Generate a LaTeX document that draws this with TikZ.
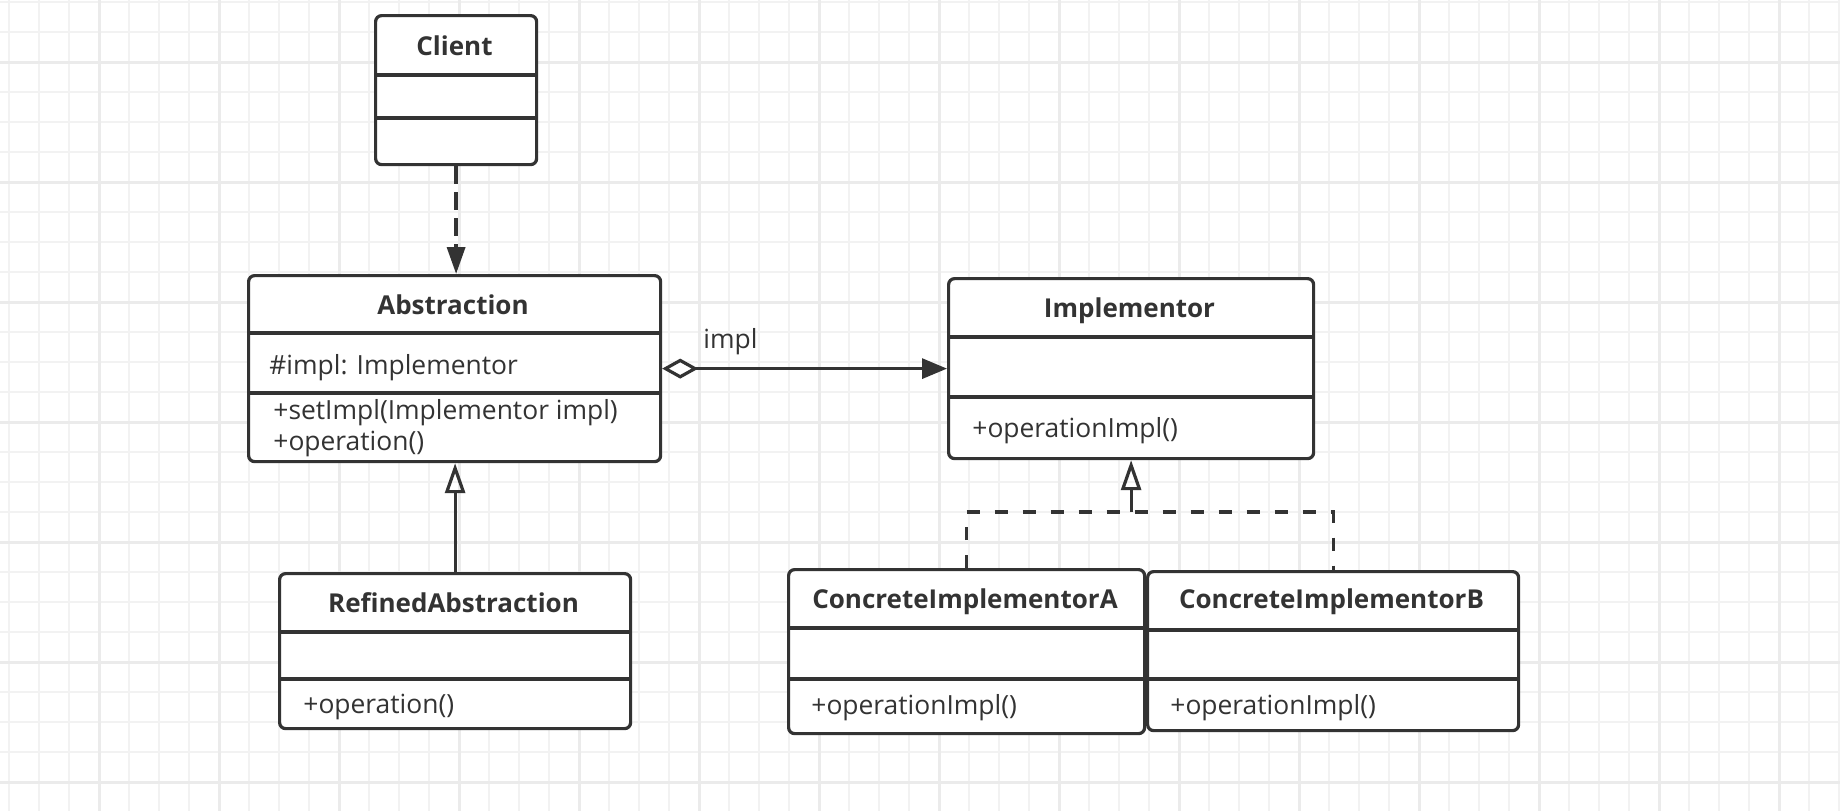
\documentclass[tikz,border=0pt]{standalone}
\usepackage{fontspec}
\setmainfont{Open Sans}
\usetikzlibrary{arrows.meta,positioning,calc}
\definecolor{ink}{HTML}{333333}
\colorlet{gridthin}{black!5}
\colorlet{gridthick}{black!8}

\begin{document}
\begin{tikzpicture}[x=0.5pt,y=-0.5pt,
  umlbox/.style={draw=ink,line width=1.6pt,rounded corners=3pt,fill=white,anchor=north west,inner sep=0pt},
  divider/.style={draw=ink,line width=1.6pt},
  title/.style={font=\bfseries\fontsize{13pt}{15pt}\selectfont,text=ink,anchor=base,inner sep=0pt},
  member/.style={font=\fontsize{13.2pt}{15pt}\selectfont,text=ink,anchor=base west,inner sep=0pt},
  dep/.style={draw=ink,line width=1.8pt,dash pattern=on 9pt off 4pt,-{Triangle[length=13.5pt,width=9pt]}},
  gen/.style={draw=ink,line width=1.6pt,-{Triangle[open,length=15pt,width=10pt,line width=1.6pt]}},
  agg/.style={draw=ink,line width=1.6pt,{Diamond[open,length=18pt,width=10pt,line width=1.6pt]}-{Triangle[length=12.5pt,width=10pt]}},
  real/.style={draw=ink,line width=1.6pt,dash pattern=on 6.5pt off 7.5pt}]
\useasboundingbox (0,0) rectangle (1840,811);
\fill[white] (0,0) rectangle (1840,811);
% background grid
\foreach \x in {9,39,...,1839} \draw[gridthin,line width=1pt] (\x,0) -- (\x,811);
\foreach \y in {2,32,...,811} \draw[gridthin,line width=1pt] (0,\y) -- (1840,\y);
\foreach \x in {99,219,...,1839} \draw[gridthick,line width=1.5pt] (\x,0) -- (\x,811);
\foreach \y in {62,182,...,811} \draw[gridthick,line width=1.5pt] (0,\y) -- (1840,\y);

% classes
\node[umlbox,minimum width=80.5pt,minimum height=74.5pt] (client) at (374,14) {};
\draw[divider] (client.west |- 0,75) -- (client.east |- 0,75);
\draw[divider] (client.west |- 0,118) -- (client.east |- 0,118);
\node[title] (clientname) at (454.5,55) {Client};

\node[umlbox,minimum width=206pt,minimum height=93pt] (abs) at (247,274) {};
\draw[divider] (abs.west |- 0,333) -- (abs.east |- 0,333);
\draw[divider] (abs.west |- 0,393) -- (abs.east |- 0,393);
\node[title] (absname) at (453,314) {Abstraction};
\node[member] (absfield) at (269,374) {\#impl: Implementor};
\node[member] (absset) at (273,419) {+setImpl(Implementor impl)};
\node[member] (absop) at (273,450) {+operation()};

\node[umlbox,minimum width=182.5pt,minimum height=90pt] (impl) at (947,277) {};
\draw[divider] (impl.west |- 0,337) -- (impl.east |- 0,337);
\draw[divider] (impl.west |- 0,397) -- (impl.east |- 0,397);
\node[title] (implname) at (1129.5,317) {Implementor};
\node[member] (implop) at (972,437) {+operationImpl()};

\node[umlbox,minimum width=175.5pt,minimum height=77.5pt] (refined) at (278,572) {};
\draw[divider] (refined.west |- 0,632) -- (refined.east |- 0,632);
\draw[divider] (refined.west |- 0,679) -- (refined.east |- 0,679);
\node[title] (refinedname) at (453.5,612) {RefinedAbstraction};
\node[member] (refinedop) at (303,713) {+operation()};

\node[umlbox,minimum width=178pt,minimum height=82pt] (cia) at (787,568) {};
\draw[divider] (cia.west |- 0,628) -- (cia.east |- 0,628);
\draw[divider] (cia.west |- 0,679) -- (cia.east |- 0,679);
\node[title] (cianame) at (965,608) {ConcreteImplementorA};
\node[member] (ciaop) at (811,714) {+operationImpl()};

\node[umlbox,minimum width=185.5pt,minimum height=79.5pt] (cib) at (1146,570) {};
\draw[divider] (cib.west |- 0,630) -- (cib.east |- 0,630);
\draw[divider] (cib.west |- 0,679) -- (cib.east |- 0,679);
\node[title] (cibname) at (1331.5,608) {ConcreteImplementorB};
\node[member] (cibop) at (1170,714) {+operationImpl()};

% relations
\draw[dep] (client.south) -- (client.south |- abs.north);
\draw[gen] (refined.north) -- (refined.north |- abs.south);
\draw[agg] (abs.east) -- (impl.west);
\node[member] (impllabel) at (703,348) {impl};
\coordinate (join) at (impl.south |- 0,512);
\draw[real] (cia.north) -- (cia.north |- join) -- (cib.north |- join) -- (cib.north);
\draw[gen] (join) -- (impl.south);
\end{tikzpicture}
\end{document}
